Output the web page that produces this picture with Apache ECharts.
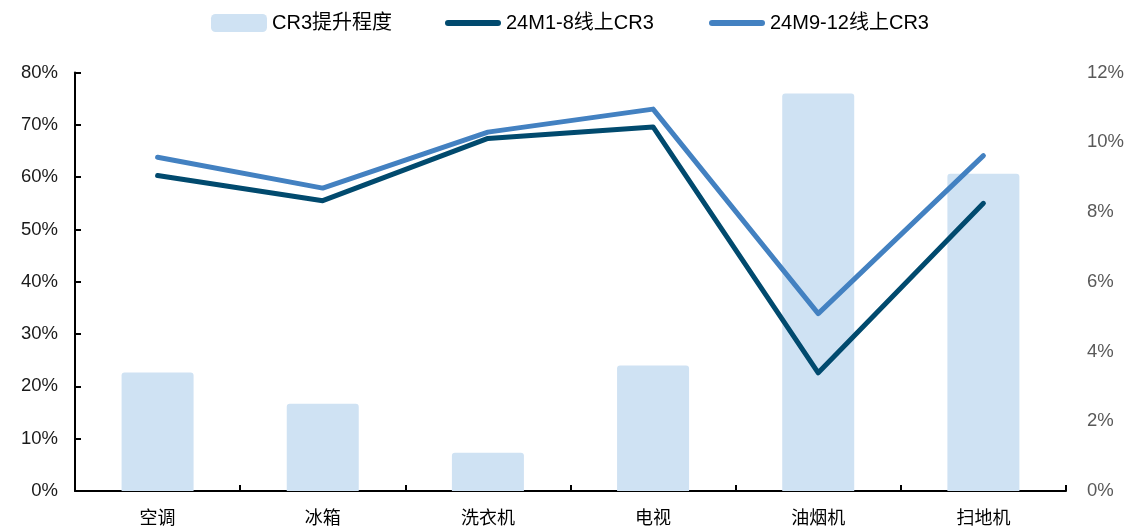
<!DOCTYPE html>
<html>
<head>
<meta charset="utf-8">
<script src="https://cdn.jsdelivr.net/npm/echarts@6/dist/echarts.min.js"></script>
<style>
  html, body { margin: 0; padding: 0; background: #fff; }
  #chart { width: 1127px; height: 526px; }
</style>
</head>
<body>
<div id="chart"></div>
<script>
// Categories (appliance types)
const categories = ['空调', '冰箱', '洗衣机', '电视', '油烟机', '扫地机'];
// CR3 improvement (right axis, %)
const cr3Lift = [3.4, 2.5, 1.1, 3.6, 11.4, 9.1];
// Online CR3 for 24M1-8 (left axis, %)
const cr3Early = [60.3, 55.5, 67.4, 69.6, 22.6, 55.0];
// Online CR3 for 24M9-12 (left axis, %)
const cr3Late = [63.8, 57.9, 68.6, 73.0, 33.9, 64.1];

const leftTicks = { min: 0, max: 80, interval: 10 };
const rightTicks = { min: 0, max: 12, interval: 2 };

const seriesNames = ['CR3提升程度', '24M1-8线上CR3', '24M9-12线上CR3'];

const latin = "'Liberation Sans', Arial, 'Noto Sans CJK SC', sans-serif";
const lineIcon = 'path://M3,0 L53,0 A3,3 0 0 1 53,6 L3,6 A3,3 0 0 1 3,0 Z';

// one legend block per series so each entry sits at its own x position
function legendAt(left, name, icon) {
  return {
    top: 8,
    left: left,
    itemWidth: 56,
    itemHeight: 18,
    textStyle: { fontFamily: latin, fontSize: 20, color: '#000' },
    data: [{ name: name, icon: icon }]
  };
}

const chart = echarts.init(document.getElementById('chart'));
chart.setOption({
  animation: false,
  backgroundColor: '#ffffff',
  legend: [
    legendAt(206, seriesNames[0], 'roundRect'),
    legendAt(440, seriesNames[1], lineIcon),
    legendAt(704, seriesNames[2], lineIcon)
  ],
  grid: { left: 75, right: 61, top: 72.5, bottom: 32, containLabel: false },
  xAxis: {
    type: 'category',
    data: categories,
    boundaryGap: true,
    axisLine: { lineStyle: { color: '#000', width: 2 } },
    axisTick: { show: true, inside: true, length: 6, lineStyle: { color: '#000', width: 2 } },
    axisLabel: {
      margin: 17,
      fontFamily: "'Noto Sans CJK SC', sans-serif",
      fontSize: 18,
      color: '#000'
    },
    splitLine: { show: false }
  },
  yAxis: [
    {
      type: 'value',
      min: leftTicks.min, max: leftTicks.max, interval: leftTicks.interval,
      axisLine: { show: true, lineStyle: { color: '#000', width: 2 } },
      axisTick: { show: true, inside: true, length: 6, lineStyle: { color: '#000', width: 2 } },
      axisLabel: { formatter: '{value}%', margin: 17, fontFamily: latin, fontSize: 18.5, color: '#1a1a1a' },
      splitLine: { show: false }
    },
    {
      type: 'value',
      min: rightTicks.min, max: rightTicks.max, interval: rightTicks.interval,
      axisLine: { show: false },
      axisTick: { show: false },
      axisLabel: { formatter: '{value}%', margin: 21, fontFamily: latin, fontSize: 18.5, color: '#595959' },
      splitLine: { show: false }
    }
  ],
  series: [
    {
      name: seriesNames[0],
      type: 'bar',
      yAxisIndex: 1,
      data: cr3Lift,
      barWidth: 72,
      itemStyle: { color: '#cfe2f3', borderRadius: [3, 3, 0, 0] },
      z: 1
    },
    {
      name: seriesNames[1],
      type: 'line',
      yAxisIndex: 0,
      data: cr3Early,
      symbol: 'none',
      lineStyle: { color: '#014a6e', width: 5, cap: 'round', join: 'round' },
      itemStyle: { color: '#014a6e' },
      z: 3
    },
    {
      name: seriesNames[2],
      type: 'line',
      yAxisIndex: 0,
      data: cr3Late,
      symbol: 'none',
      lineStyle: { color: '#4381c1', width: 5, cap: 'round', join: 'round' },
      itemStyle: { color: '#4381c1' },
      z: 4
    }
  ]
});
</script>
</body>
</html>
